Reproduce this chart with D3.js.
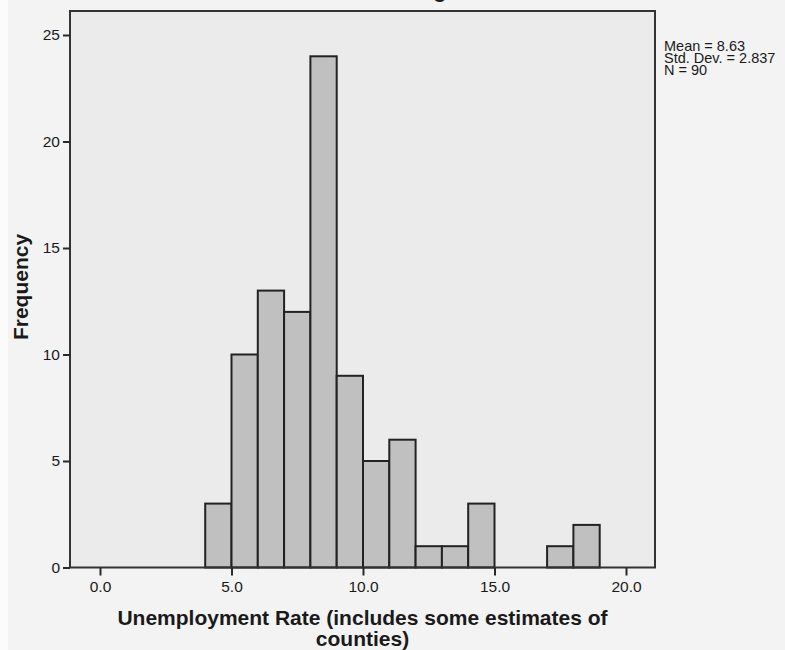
<!DOCTYPE html>
<html>
<head>
<meta charset="utf-8">
<script src="https://cdn.jsdelivr.net/npm/d3@7/dist/d3.min.js"></script>
<style>
  html, body { margin: 0; padding: 0; background: #f3f3f3; }
  svg { display: block; }
  text { font-family: "Liberation Sans", Arial, sans-serif; fill: #1a1a1a; }
</style>
</head>
<body>
<svg id="chart" width="785" height="650"></svg>
<script>
// Histogram of unemployment rate: bins of width 1.0
const binStart = [4, 5, 6, 7, 8, 9, 10, 11, 12, 13, 14, 15, 16, 17, 18];
const frequency = [3, 10, 13, 12, 24, 9, 5, 6, 1, 1, 3, 0, 0, 1, 2];
const binWidth = 1;

const xTicks = [0, 5, 10, 15, 20];
const yTicks = [0, 5, 10, 15, 20, 25];

const statsLines = ["Mean = 8.63", "Std. Dev. = 2.837", "N = 90"];
const titleText = "Histogram";
const xTitleLines = ["Unemployment Rate (includes some estimates of", "counties)"];
const yTitle = "Frequency";

const svg = d3.select("#chart");
const W = 785, H = 650;

// plot frame
const frame = { left: 70, right: 655, top: 11, bottom: 567.5 };

const x = d3.scaleLinear().domain([0, 20]).range([100, 626]);
const y = d3.scaleLinear().domain([0, 25]).range([567.5, 35]);

// page background with a thin white strip at the left edge
svg.append("rect").attr("x", 0).attr("y", 0).attr("width", W).attr("height", H).attr("fill", "#f3f3f3");
svg.append("rect").attr("x", 0).attr("y", 0).attr("width", 8).attr("height", H).attr("fill", "#fbfbfb");

// title (runs off the top edge)
svg.append("text")
  .attr("x", 433).attr("y", -2.5)
  .attr("text-anchor", "middle")
  .style("font-size", "21px").style("font-weight", "bold")
  .text(titleText);

// plot area
svg.append("rect")
  .attr("x", frame.left).attr("y", frame.top)
  .attr("width", frame.right - frame.left).attr("height", frame.bottom - frame.top)
  .attr("fill", "#ebebeb");

// bars
const data = binStart.map((s, i) => ({ s, f: frequency[i] })).filter(d => d.f > 0);
svg.append("g").selectAll("rect")
  .data(data)
  .join("rect")
  .attr("x", d => x(d.s))
  .attr("y", d => y(d.f))
  .attr("width", d => x(d.s + binWidth) - x(d.s))
  .attr("height", d => y(0) - y(d.f))
  .attr("fill", "#c0c0c0")
  .attr("stroke", "#222")
  .attr("stroke-width", 2);

// frame border
svg.append("rect")
  .attr("x", frame.left).attr("y", frame.top)
  .attr("width", frame.right - frame.left).attr("height", frame.bottom - frame.top)
  .attr("fill", "none")
  .attr("stroke", "#333")
  .attr("stroke-width", 2);

// y axis
const yAxis = d3.axisLeft(y).tickValues(yTicks).tickFormat(d3.format("d")).tickSize(7).tickPadding(3);
const gy = svg.append("g").attr("transform", `translate(${frame.left},0)`).call(yAxis);
gy.select(".domain").remove();
gy.selectAll(".tick line").attr("stroke", "#2a2a2a").attr("stroke-width", 2);
gy.selectAll(".tick text")
  .attr("fill", "#1a1a1a")
  .style("font-family", "'Liberation Sans', Arial, sans-serif")
  .style("font-size", "15.5px");

// x axis
const xAxis = d3.axisBottom(x).tickValues(xTicks).tickFormat(d3.format(".1f")).tickSize(8).tickPadding(5);
const gx = svg.append("g").attr("transform", `translate(0,${frame.bottom})`).call(xAxis);
gx.select(".domain").remove();
gx.selectAll(".tick line").attr("stroke", "#2a2a2a").attr("stroke-width", 2);
gx.selectAll(".tick text")
  .attr("fill", "#1a1a1a")
  .style("font-family", "'Liberation Sans', Arial, sans-serif")
  .style("font-size", "15.5px");

// axis titles
const xt = svg.append("text")
  .attr("text-anchor", "middle")
  .style("font-size", "21px").style("font-weight", "bold");
xt.selectAll("tspan").data(xTitleLines).join("tspan")
  .attr("x", (frame.left + frame.right) / 2)
  .attr("y", (d, i) => 625 + i * 21)
  .text(d => d);

svg.append("text")
  .attr("transform", `translate(28,${287}) rotate(-90)`)
  .attr("text-anchor", "middle")
  .style("font-size", "21px").style("font-weight", "bold")
  .text(yTitle);

// summary statistics
const st = svg.append("text").style("font-size", "14.5px");
st.selectAll("tspan").data(statsLines).join("tspan")
  .attr("x", 664)
  .attr("y", (d, i) => 50.5 + i * 12.3)
  .text(d => d);
</script>
</body>
</html>
